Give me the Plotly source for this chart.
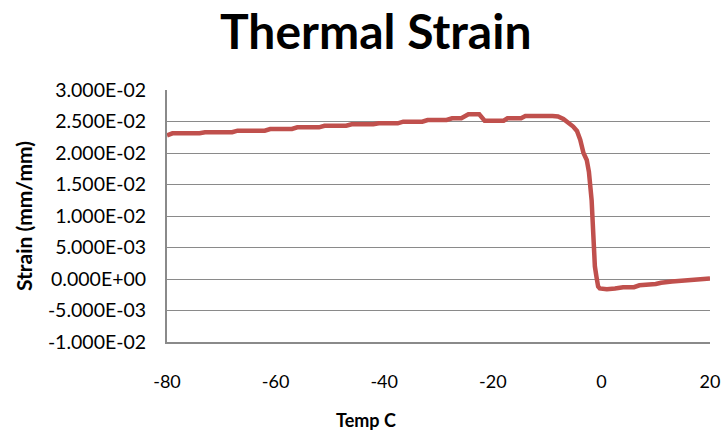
import plotly.graph_objects as go

# Temperature (C) and measured thermal strain (mm/mm)
temp_c = [
    -80.0, -79.0, -74.0, -73.0, -68.0, -67.0, -62.0, -61.0, -57.0, -56.0,
    -52.0, -51.0, -47.0, -46.0, -42.0, -41.0, -37.5, -36.5, -33.0, -32.0,
    -28.5, -27.5, -25.8, -25.0, -24.5, -22.5, -21.5, -18.0, -17.3, -14.8,
    -14.0, -9.0, -8.0, -7.0, -6.0, -5.2, -4.5, -3.9, -3.3, -2.7,
    -2.3, -2.1, -1.8, -1.6, -1.5, -1.2, -0.9, -0.6, -0.3, 1.0,
    2.5, 4.0, 6.0, 7.0, 10.0, 11.0, 13.0, 15.0, 17.0, 19.0, 20.0,
]
strain = [
    0.02280, 0.02313, 0.02313, 0.02329, 0.02329, 0.02354, 0.02354, 0.02381, 0.02381, 0.02408,
    0.02408, 0.02433, 0.02433, 0.02456, 0.02456, 0.02471, 0.02471, 0.02497, 0.02497, 0.02524,
    0.02524, 0.02551, 0.02551, 0.02587, 0.02614, 0.02614, 0.02513, 0.02513, 0.02551, 0.02551,
    0.02587, 0.02587, 0.02580, 0.02540, 0.02480, 0.02420, 0.02350, 0.02210, 0.02000, 0.01890,
    0.01700, 0.01570, 0.01250, 0.00900, 0.00620, 0.00200, 0.00030, -0.00120, -0.00150, -0.00164,
    -0.00150, -0.00130, -0.00130, -0.00100, -0.00080, -0.00060, -0.00040, -0.00030, -0.00020, 0.00000, 0.00010,
]

y_ticks = [-0.01, -0.005, 0.0, 0.005, 0.01, 0.015, 0.02, 0.025, 0.03]
y_tick_labels = ["-1.000E-02", "-5.000E-03", "0.000E+00", "5.000E-03", "1.000E-02",
                 "1.500E-02", "2.000E-02", "2.500E-02", "3.000E-02"]
x_ticks = [-80, -60, -40, -20, 0, 20]
x_tick_labels = ["-80", "-60", "-40", "-20", "0", "20"]

FONT = "Lato"
GRID = "#8a8a8a"

# plot area in pixels: x 167..710, y 90..342
PL, PR, PT, PB = 167, 710, 90, 342


def px(x):
    return (x - PL) / (PR - PL)


def py(y):
    return (PB - y) / (PB - PT)


fig = go.Figure()
fig.add_trace(go.Scatter(
    x=temp_c, y=strain, mode="lines",
    line=dict(color="#C0504D", width=4.5),
    showlegend=False,
))

fig.update_layout(
    width=723, height=431,
    margin=dict(l=PL, r=723 - PR, t=PT, b=431 - PB),
    paper_bgcolor="white", plot_bgcolor="white",
    font=dict(family=FONT, color="black"),
)
fig.add_annotation(text="<b>Thermal Strain</b>", xref="paper", yref="paper",
                   x=px(375), y=py(31), showarrow=False,
                   xanchor="center", yanchor="middle", font=dict(size=48, family=FONT))
fig.add_annotation(text="<b>Strain (mm/mm)</b>", xref="paper", yref="paper",
                   x=px(23), y=py(216), showarrow=False, textangle=-90,
                   xanchor="center", yanchor="middle", font=dict(size=21, family=FONT))
fig.add_annotation(text="<b>Temp C</b>", xref="paper", yref="paper",
                   x=px(366), y=py(420), showarrow=False,
                   xanchor="center", yanchor="middle", font=dict(size=18, family=FONT))

fig.update_xaxes(
    range=[-80, 20], tickvals=x_ticks, ticktext=x_tick_labels,
    showgrid=False, zeroline=False, automargin=False,
    showline=True, linecolor=GRID, linewidth=2,
    ticks="", ticklabelstandoff=22, tickfont=dict(size=18, family=FONT),
)
fig.update_yaxes(
    range=[-0.01, 0.03], tickvals=y_ticks, ticktext=y_tick_labels,
    showgrid=True, gridcolor=GRID, gridwidth=1.3, zeroline=False, automargin=False,
    showline=True, linecolor=GRID, linewidth=2,
    ticks="", ticklabelstandoff=15, tickfont=dict(size=19.5, family=FONT),
)

fig.write_html("out.html")
